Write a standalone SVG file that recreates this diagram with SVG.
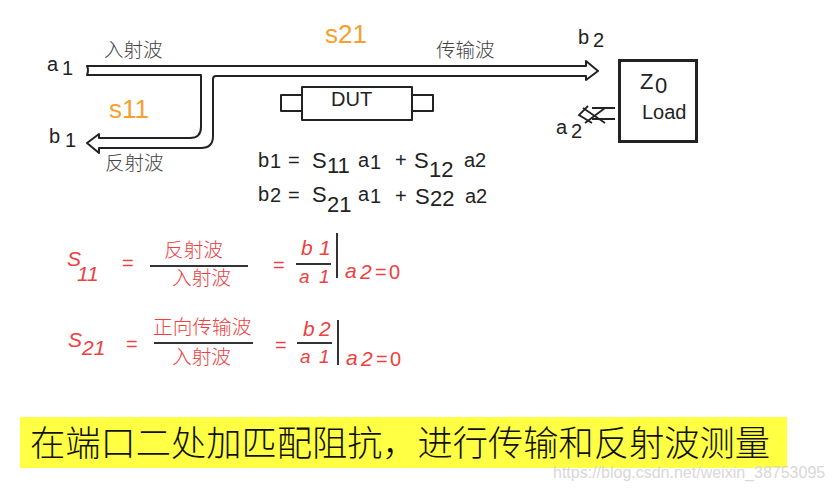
<svg xmlns="http://www.w3.org/2000/svg" width="834" height="492" viewBox="0 0 834 492">
<style>
text{font-family:"Liberation Sans","Noto Sans CJK SC",sans-serif}
.cn{fill:#444;font-size:19.500px;font-weight:300}
.o{fill:#f5a02e;font-size:26px}
.r{fill:#ee4040;font-size:20px}
.ri{fill:#ee4040;font-style:italic;font-size:21px}
.sm{fill:#ee4040;font-style:italic;font-size:19px}
.rc{fill:#ee4040;font-size:19.700px;font-weight:300}
.l{fill:none;stroke:#222;stroke-width:2;stroke-linejoin:round}
.b{fill:none;stroke:#222;stroke-width:3}
.t{fill:none;stroke:#222;stroke-width:1.800}
.f{font-size:20px;fill:#222}
.e{font-size:22px;fill:#222}
.rule{stroke:#333;stroke-width:2}
</style>
<rect width="834" height="492" fill="#fff"/>
<g id="connectors">
<path class="l" d="M87 66H586V61L598 71L586 80V76H216Q213 76 213 79V136Q213 148 201 148H99V153L87 143L99 134V138H190Q201 138 201 127V75H87Q89 70 87 66Z"/>
<path class="t" d="M615 108H592M615 119H592M588 106L579 115L592 123M583 108L605 123M585 123L605 108"/>
</g>
<g id="load">
<rect class="b" x="619.500" y="60.500" width="77" height="81"/>
<text x="640" y="89" class="e">Z</text><text x="655" y="93" class="e">0</text>
<text x="642" y="119" class="f">Load</text>
</g>
<g id="dut">
<rect class="l" x="302" y="87" width="110" height="33" fill="#fff"/>
<rect class="l" x="281" y="95" width="21" height="16"/>
<rect class="l" x="412" y="95" width="21" height="16"/>
<text x="331" y="106" class="f">DUT</text>
</g>
<g id="labels">
<text x="104" y="57" class="cn">入射波</text>
<text x="436" y="57" class="cn">传输波</text>
<text x="105" y="170" class="cn">反射波</text>
<text x="325" y="43" class="o">s21</text>
<text x="109" y="118" class="o">s11</text>
<text x="47" y="71" class="f">a</text><text x="62" y="75" class="f">1</text>
<text x="49" y="143" class="f">b</text><text x="65" y="147" class="f">1</text>
<text x="578" y="44" class="f">b</text><text x="593" y="47" class="f">2</text>
<text x="556" y="134" class="f">a</text><text x="571" y="138" class="f">2</text>
</g>
<g id="equation-b1">
<text x="258" y="167" class="f">b</text><text x="270" y="168" class="f">1</text><text x="288" y="167" class="f">=</text>
<text x="312" y="168" class="e">S</text><text x="327" y="173" class="e">11</text>
<text x="358" y="167" class="f">a</text><text x="370" y="169" class="f">1</text>
<text x="395" y="167" class="f">+</text><text x="414" y="168" class="e">S</text><text x="429" y="177" class="e">12</text>
<text x="464" y="167" class="f">a2</text>
</g>
<g id="equation-b2">
<text x="258" y="201" class="f">b</text><text x="270" y="202" class="f">2</text><text x="288" y="202" class="f">=</text>
<text x="312" y="202" class="e">S</text><text x="327" y="212" class="e">21</text>
<text x="358" y="201" class="f">a</text><text x="370" y="203" class="f">1</text>
<text x="395" y="203" class="f">+</text><text x="415" y="204" class="e">S</text><text x="430" y="206" class="e">22</text>
<text x="465" y="203" class="f">a2</text>
</g>
<g id="formula-s11">
<text x="67" y="266" class="ri">S</text><text x="77" y="281" class="ri">11</text>
<text x="122" y="270" class="r">=</text>
<text x="164" y="257" class="rc">反射波</text>
<path d="M150 266H248" class="rule"/>
<text x="172" y="285" class="rc">入射波</text>
<text x="273" y="272" class="r">=</text>
<text x="301" y="255" class="ri">b</text><text x="319" y="255" class="ri">1</text>
<path d="M296 264H331" class="rule"/>
<text x="299" y="283" class="sm">a</text><text x="319" y="283" class="sm">1</text>
<path d="M337 233V278" class="rule"/>
<text x="345" y="278" class="ri">a</text><text x="360" y="279" class="ri">2</text><text x="375" y="279" class="r">=</text><text x="389" y="279" class="r">0</text>
</g>
<g id="formula-s21">
<text x="68" y="347" class="ri">S</text><text x="82" y="355" class="ri">21</text>
<text x="126" y="351" class="r">=</text>
<text x="153" y="334" class="rc">正向传输波</text>
<path d="M154 343H253" class="rule"/>
<text x="172" y="364" class="rc">入射波</text>
<text x="275" y="352" class="r">=</text>
<text x="303" y="336" class="ri">b</text><text x="319" y="336" class="ri">2</text>
<path d="M297 343H332" class="rule"/>
<text x="300" y="363" class="sm">a</text><text x="319" y="363" class="sm">1</text>
<path d="M338 320V365" class="rule"/>
<text x="346" y="365" class="ri">a</text><text x="361" y="366" class="ri">2</text><text x="376" y="366" class="r">=</text><text x="390" y="366" class="r">0</text>
</g>
<g id="caption">
<rect x="20" y="417" width="767" height="51" fill="#ffff44"/>
<text x="30" y="456" style="font-family:'Noto Sans CJK SC',sans-serif;font-size:35px;font-weight:300" fill="#111" textLength="740" lengthAdjust="spacingAndGlyphs">在端口二处加匹配阻抗&#xFF0C;进行传输和反射波测量</text>
</g>
<text x="553" y="478" style="font-size:16px" fill="#d8d8d8">https://blog.csdn.net/weixin_38753095</text>
</svg>
